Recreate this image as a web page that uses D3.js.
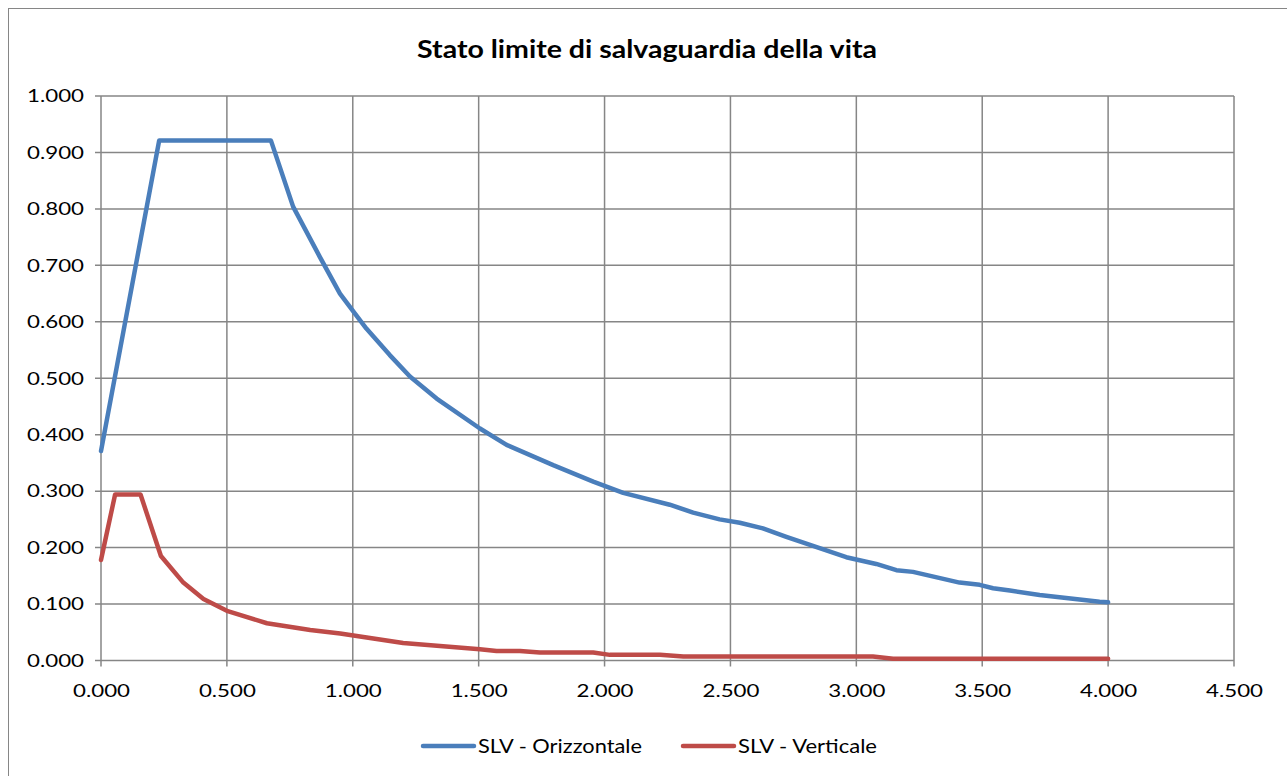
<!DOCTYPE html>
<html><head><meta charset="utf-8">
<script src="https://cdn.jsdelivr.net/npm/d3@7"></script>
<style>html,body{margin:0;padding:0;background:#fff;}svg{display:block;}</style>
</head><body>
<svg id="c" width="1287" height="776"></svg>
<script>
const title = "Stato limite di salvaguardia della vita";
const seriesNames = ["SLV - Orizzontale", "SLV - Verticale"];
const xTicks = [0, 0.5, 1, 1.5, 2, 2.5, 3, 3.5, 4, 4.5];
const yTicks = [0, 0.1, 0.2, 0.3, 0.4, 0.5, 0.6, 0.7, 0.8, 0.9, 1.0];
const orizT = [0, 0.231, 0.675, 0.763, 0.869, 0.949, 1.008, 1.054, 1.147, 1.227, 1.333, 1.505, 1.611, 1.796, 1.955, 2.074, 2.259, 2.352, 2.457, 2.537, 2.629, 2.722, 2.96, 3.079, 3.159, 3.225, 3.41, 3.49, 3.543, 3.61, 3.728, 3.966, 4.0];
const orizV = [0.371, 0.921, 0.921, 0.804, 0.715, 0.650, 0.615, 0.588, 0.541, 0.503, 0.464, 0.411, 0.382, 0.346, 0.317, 0.297, 0.276, 0.262, 0.250, 0.244, 0.234, 0.219, 0.183, 0.171, 0.160, 0.157, 0.138, 0.134, 0.128, 0.124, 0.116, 0.104, 0.103];
const vertT = [0, 0.056, 0.157, 0.238, 0.327, 0.407, 0.5, 0.659, 0.831, 0.95, 1.2, 1.505, 1.571, 1.664, 1.743, 1.955, 2.021, 2.22, 2.313, 3.066, 3.146, 4.0];
const vertV = [0.178, 0.294, 0.294, 0.185, 0.138, 0.109, 0.088, 0.066, 0.054, 0.048, 0.031, 0.020, 0.017, 0.017, 0.014, 0.014, 0.010, 0.010, 0.007, 0.007, 0.003, 0.003];
const colors = ["#4A7EBB", "#BE4B48"];

const svg = d3.select("#c");
const font = "Lato, 'Open Sans', sans-serif";
const m = {l:101, r:1234, t:96, b:660.5};
const x = d3.scaleLinear().domain([0, 4.5]).range([m.l, m.r]);
const y = d3.scaleLinear().domain([0, 1]).range([m.b, m.t]);

svg.append("rect").attr("x", 8.5).attr("y", 8.5).attr("width", 1290).attr("height", 800)
  .attr("fill", "#fff").attr("stroke", "#868686").attr("stroke-width", 1);

svg.append("text").attr("x", 647).attr("y", 58).attr("text-anchor", "middle")
  .style("font-family", font).style("font-weight", "bold").style("font-size", "24px")
  .attr("textLength", 460).attr("lengthAdjust", "spacingAndGlyphs")
  .attr("fill", "#000").text(title);

const grid = svg.append("g");
grid.selectAll("line.h").data(yTicks).enter().append("line")
  .attr("x1", m.l - 6).attr("x2", m.r).attr("y1", d => y(d)).attr("y2", d => y(d))
  .attr("stroke", "#868686").attr("stroke-width", 1.5);
grid.selectAll("line.v").data(xTicks).enter().append("line")
  .attr("x1", d => x(d)).attr("x2", d => x(d)).attr("y1", m.t).attr("y2", m.b + 6)
  .attr("stroke", "#868686").attr("stroke-width", 1.5);

const fmt = d3.format(".3f");
const yAxis = d3.axisLeft(y).tickValues(yTicks).tickFormat(fmt).tickSize(0).tickPadding(17);
const gy = svg.append("g").attr("transform", `translate(${m.l},0)`).call(yAxis);
gy.select(".domain").remove();
gy.selectAll("text").style("font-family", font).style("font-size", "18px").attr("fill", "#000")
  .attr("textLength", 57).attr("lengthAdjust", "spacingAndGlyphs");

const xAxis = d3.axisBottom(x).tickValues(xTicks).tickFormat(fmt).tickSize(0).tickPadding(24);
const gx = svg.append("g").attr("transform", `translate(0,${m.b})`).call(xAxis);
gx.select(".domain").remove();
gx.selectAll("text").style("font-family", font).style("font-size", "18px").attr("fill", "#000")
  .attr("textLength", 57).attr("lengthAdjust", "spacingAndGlyphs");

const line = d3.line().x(d => x(d[0])).y(d => y(d[1]));
const series = [d3.zip(orizT, orizV), d3.zip(vertT, vertV)];
svg.selectAll("path.s").data(series).enter().append("path")
  .attr("d", line).attr("fill", "none")
  .attr("stroke", (d, i) => colors[i]).attr("stroke-width", 4.5)
  .attr("stroke-linejoin", "round").attr("stroke-linecap", "round");

const legX = [423, 683];
const legW = [164, 139];
const lg = svg.append("g");
seriesNames.forEach((n, i) => {
  lg.append("line").attr("x1", legX[i]).attr("x2", legX[i] + 51).attr("y1", 746).attr("y2", 746)
    .attr("stroke", colors[i]).attr("stroke-width", 4.5).attr("stroke-linecap", "round");
  lg.append("text").attr("x", legX[i] + 55).attr("y", 753)
    .style("font-family", font).style("font-size", "19px").attr("fill", "#000")
    .attr("textLength", legW[i]).attr("lengthAdjust", "spacingAndGlyphs").text(n);
});
</script>
</body></html>
